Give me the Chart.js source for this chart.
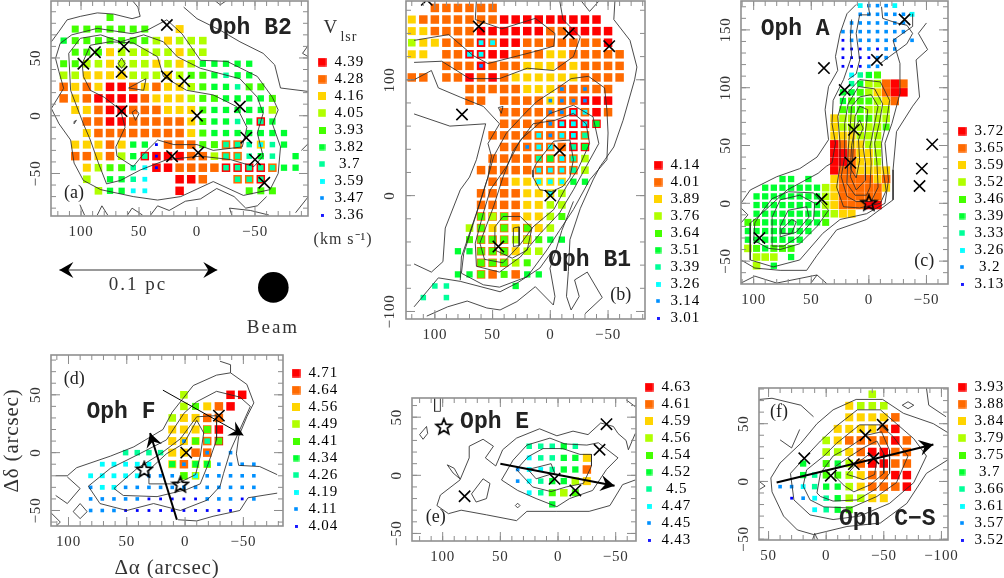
<!DOCTYPE html>
<html>
<head>
<meta charset="utf-8">
<style>
html,body{margin:0;padding:0;background:#fff;overflow:hidden}
canvas{position:absolute}
</style>
<script src="https://cdn.jsdelivr.net/npm/chart.js@4/dist/chart.umd.min.js"></script>
</head>
<body>
<script>
// velocity bins, strongest first: same colour ramp in every panel
const levelColors = ['#ff0000','#ff6a00','#ffd400','#b0ff00','#44ff00','#00ff30','#00ff99','#00ffff','#0090ff','#0000ff'];
const levelSides = [8.5,8.5,8,7.6,7,6.3,5.5,4.8,3.6,2.8];

const ticks100 = [100,50,0,-50];
const ticksF = [50,0,-50,-100];
const ticks50 = [50,0,-50];
const ticksB = [100,0,-100];
const ticksC = [150,100,50,0,-50];
const minor10 = [170,160,150,140,130,120,110,100,90,80,70,60,50,40,30,20,10,0,-10,-20,-30,-40,-50,-60,-70,-80,-90,-100,-110];
const minor20 = [160,140,120,100,80,60,40,20,0,-20,-40,-60,-80,-100];

// ---- Oph B2
const aVels = ['4.39','4.28','4.16','4.05','3.93','3.82','\u00a03.7','3.59','3.47','3.36'];
const aColsX = [115,105,95,85,75,65,55,45,35,25,15,5,-5,-15,-25,-35,-45,-55,-65,-75,-85];
const aRowsY = [85,75,65,55,45,35,25,15,5,-5,-15,-25,-35,-45,-55,-65];
const aRows = [
'....4................',
'.4444444..2..........',
'5444444432333........',
'.444233333233........',
'44332333232355555....',
'33222233323445655....',
'121200121223455644...',
'1210000122234455554..',
'.221001112224555553..',
'..11001111124556505..',
'..211111111245555555.',
'.2221255911144116265.',
'.112135000011311656.5',
'..2344670011110000155',
'..3.5567..001..110...',
'...35577..0.....444..'];
const aOver = [[-55,-5,6],[-25,-25,6],[-35,-25,6],[-55,-25,7],[45,-35,6],[35,-35,9],[-25,-35,6],[-35,-35,6],[35,-45,9],[-25,-45,6],[-35,-45,6],[-45,-45,6],[-55,-45,6],[-65,-45,6],[-35,-55,6],[-45,-55,6],[-55,-55,6]];
const aCrosses = [[26,78.5],[63,60],[88,55],[98,45],[65,38],[26,34],[11,30],[-37,8],[0,0],[65,4],[-42.5,-19],[-1,-32],[21.5,-35],[-50,-38],[-58,-58]];
const aContours = [
[125.6,64,119,73,112,83,100.6,86,86,89,72,88,56,84,49,86,51,94,56,100],
[11.5,94,0,84,-20,74,-37,64,-57,54,-67,44,-72,24,-96,21],
[125.6,6.3,115,23.7,119,38,122,49.6,118,62.6,108,70,86,75.6,56,71,43,74,26,83,13,71,-3,48,-26,47,-52,34,-65,16,-70,5,-65,-7,-72,-27,-70,-50,-63,-64,-40,-69,-14,-57,14,-70,34,-73,55,-70,83,-64,98,-56,106,-41,109,-21,119,-7,125.6,6.3],
[110.6,54,100.6,67,83,70,66,64,46,70,29,64,17,51,-3,41,-37,32,-52,16,-57,2,-52,-15,-57,-35,-49,-44,-29,-38,-3,-35,26,-38,49,-47,66,-56,78,-59,85,-41,92,-21,98,-7,109,22,110.6,54],
[98,34,99,45,92,61,75,64,55,63,34,51,29,34,9,22,-14,18,-34,8,-43,-10,-39,-27,-14,-30,0,-25,20,-25,34,-21,46,-33,55,-44,69,-35,70,-27,62,-10,66,5,80,16,92,22,98,34],
[68,45,65,50,62,45,65,41,68,45],
[59,24,44,32,46,22,59,24],
[56,3,53,5,50,2,53,-4,56,3],
[106,-5,104,-4,106,-7,106,-5],
[40,-86,34,-78,24,-82,10,-74,-3,-72,-17,-63,-32,-70,-42,-80,-52,-78,-60,-70],
[-96,61,-91,54,-96,51],
[97,-86,101,-77],
[-30,-86,-28,-80,-46,-82,-62,-86],
[47,-86,56,-80,60,-86],
[77,-86,82,-78,86,-86],
[-85,-84,-96,-70],
[-90,-30,-96,-24],
[-15,100,-20,96,-26,100]];

// ---- Oph B1
const bVels = ['4.14','4.01','3.89','3.76','3.64','3.51','3.39','3.26','3.14','3.01'];
const bColsX = [120,110,100,90,80,70,60,50,40,30,20,10,0,-10,-20,-30,-40,-50,-60];
const bRowsY = [162,152,142,132,122,112,102,92,82,72,62,52,42,32,22,12,2,-8,-18,-28,-38,-48,-58,-68,-78,-88];
const bRows = [
'..111111...........',
'21111111000000000..',
'221111000000110000.',
'322111010011111110.',
'22.1100001112211111',
'...1110111222121111',
'11.1101012222221111',
'.....1111122211111.',
'.....11.1111211000.',
'........1111110101.',
'........111110000..',
'.......111111101...',
'........11111100...',
'.......111111113...',
'......1111111113...',
'.......112222255...',
'......11112223.....',
'......11112233.....',
'......11112234.....',
'.....31212123......',
'.....411131455.....',
'....55111233.......',
'......11134........',
'....5511.155........',
'..66.....5.........',
'.6.6...............'];
const bOver = [[60,132,7],[50,132,7],[70,122,7],[60,122,7],[60,112,8],[-10,92,8],[-30,92,8],[0,82,8],[-10,82,8],[-20,82,8],[-30,82,8],[0,72,8],[-10,72,8],[-20,72,7],[-30,72,7],[0,62,8],[-10,62,7],[-20,62,7],[-30,62,7],[-40,62,5],[10,52,7],[0,52,8],[-10,52,7],[-20,52,7],[-30,52,6],[20,42,8],[10,42,7],[0,42,7],[-20,42,6],[-30,42,5],[10,32,6],[0,32,5],[-10,32,7],[-20,32,6],[10,22,7],[0,22,7],[-10,22,7],[-20,22,6],[10,12,7],[0,12,7],[-10,12,7],[0,2,7],[60,-18,4],[50,-18,3],[40,-18,4],[60,-28,4],[40,-28,4],[20,-28,4],[60,-38,4],[50,-38,4],[40,-38,4],[20,-38,3],[60,-48,4],[50,-48,4],[40,-48,4],[60,-58,4],[50,-58,4],[40,-58,4],[60,-68,4],[40,-68,4]];
const bCrosses = [[107,169],[62,146],[-16,140],[-51,129],[76.5,70],[-8,39],[0,0],[45,-44]];
const bContours = [
[118,134,88,139,67,121,54,114,15,124,-3,129,-4,140,13,153,42,144,65,152,64,169],
[118,115,94,116,70,101,44,101,20,110,-3,108,-20,120,-26,137,-11,152,-8,169],
[126,100,118,100,103,108,97,93,78,85,58,77,44,62,54,45,51,34,54,16,64,-15,77,-53,78,-73],
[118,70.5,87,60,56,62,64,31,70,16,78,5,91,-28,93,-57,103,-66,118,-59],
[45,76,41,77,42.5,71,45,76],
[-26,169,-34,159,-43,169],
[-56,169,-55,152,-69,134,-75,111,-73,100,-63,65,-55,42,-43,25,-37,13.5,-26,-11,-17,-38,-15.6,-65.6,-14,-87,-18,-98.7,-25,-87,-21,-72.8,-32,-66,-45,-88,-30,-102],
[-20,-5,-10,-30,-4,-50,0.3,-62.7,-4,-87,-2.6,-94.4,13,-78.6,29,-91.5,43.5,-98.7,55,-97,72,-91,89,-96,107,-104],
[118,-96,97,-71,78,-74,43.5,-83,28,-75,9,-62.5,0,-50],
[-47,93,-33,103,-18,101,-8,94,12,81,23,70,38,54,49,34,54,16,62,-9.5,75,-50,77,-67,58,-77,44,-79,20,-70,3,-47,-8,-30,-20,-12,-34,13.5,-49,31,-50,54,-49,74,-47,93],
[0,71,-20,78,-37,68,-42,45,-31,25,-20,5,-8,-15,9,-33,26,-53,44,-66,64,-61,65,-41,58,-15,52,5,38,25,26,48,0,71],
[-4,65,-20,71,-31,62,-34,45,-24,23,-14,8,-3,-12,15,-27,26,-42,41,-58,57,-55,61,-41,49,-9,41,16,32,39,15,62,-4,65],
[48,-27,41,-18,26,-18,16,-28,20,-47,33,-54,48,-47,48,-27],
[32,-28,27,-27,27,-43,32,-44,32,-28],
[15,22,15,16,9,5,-1,3.5,-11,8,-17,16,-20,31,-17,48,-3,47,12,28,15,22]];

// ---- Oph A
const cVels = ['3.72','3.65','3.59','3.52','3.46','3.39','3.33','3.26','\u00a03.2','3.13'];
const cColsX = [105,97.5,90,82.5,75,67.5,60,52.5,45,37.5,30,22.5,15,7.5,0,-7.5,-15,-22.5,-30,-37.5];
const cRowsY = [171,163.5,156,148.5,141,133.5,126,118.5,111,103.5,96,88.5,81,73.5,66,58.5,51,43.5,36,28.5,21,13.5,6,-1.5,-9,-16.5,-24,-31.5,-39,-46.5,-54];
const cRows = [
'.............78887..',
'.............8888887',
'............8888888.',
'...........88888888.',
'...........9888888.8',
'...........9998988..',
'...........999988...',
'...........99988....',
'............7654....',
'............6533101.',
'...........55432100.',
'...........5444321..',
'...........444333...',
'..........2334433...',
'..........2333334...',
'..........222333....',
'..........012233....',
'..........001223....',
'..........001223....',
'..........0112222...',
'....55.5..2111121...',
'..555555532111112...',
'.555555553211111....',
'.555555553211100....',
'.555555554322.......',
'4455555554..........',
'55555555............',
'5555555.............',
'345444..............',
'.333.5..............',
'.3.5................'];
const cCrosses = [[-31,159],[-7,124],[39,117],[21,98],[13,63.5],[16,35],[-55,51],[-46,30],[-44,15],[41,3.5],[95,-30]];
const cStars = [[0,0]];
const cContours = [
[11,172,19,164,25,147,29,127,27,115,35,101,38,81,35,55,45,40,60,30,80,23,103,11.5,111,0],
[-50,156,-43,147,-51,133,-41,124,-44,92,-38,84,-24,62,-21,29,-21,3,2,-14,28,-23,45,-45,54,-58,77,-58,99,-56,111,-49],
[15,159,16,144,15,127,22,107,31,89,32,69,29,52,32,35,37,32,44,26,71,11.5,96,-11.5,103,-17,103,-49,83,-55,60,-49,40,-26,25,-14,2,-9,-14,0,-17,20,-14,52,-20,69,-27,95,-27,121,-21,141,-38,153,-38,164],
[8,107,-10,105,-18,89,-15,69,-11,52,-12,32,-15,11,-10,0,8,-4,22,-3,28,14,25,32,25,52,27,75,22,92,8,107],
[9,101,-5,99,-12,86,-9,69,-5,52,-7,35,-8,14,-2,1.5,11,1.5,19,6,24,23,21,40,21,69,18,86,9,101],
[8,92,-2,94,-8,84,-5,69,-1,49,-2,35,-1,14,2,7,12,7,19,17,18,46,16,69,15,84,8,92],
[8,84,1,81,2,69,5,49,3,35,3,20,11,11.5,16,23,14,40,13,60,12,75,8,84],
[8,72,5,65,9,55,8,37,11,22,16,30,15,50,12,65,8,72],
[94,-9,84,4,70,10,48,9,35,-6,45,-20,60,-35,77,-40,87,-39,100,-32,99,-17,94,-9],
[84,-12,77,3,60,7,47,0,48,-14,61,-29,74,-37,84,-37,84,-12],
[77,-20,70,-6,54,-3,52,-12,63,-25,77,-29,77,-20],
[76,-23,67,-14,63,-16,67,-26,76,-26,76,-23],
[111,-69,99,-63,80,-69,45,-62,36,-70],
[45,-62,51,-70],
[111,-4,105,-10,111,-17],
[-11,170,-12,160,-24,156,-33,154,-38,147,-33,138,-18,127,-10,121],
[1,172,-1,163,8,163,11,147,8,124,11,112,18,107]];

// ---- Oph F
const dVels = ['4.71','4.64','4.56','4.49','4.41','4.34','4.26','4.19','4.11','4.04'];
const dColsX = [81,71,61,51,41,31,21,11,1,-9,-19,-29,-39,-49,-59];
const dRowsY = [50,40,30,20,10,0,-10,-20,-30,-40,-50];
const dRows = [
'........3...00.',
'........34210..',
'.......32211...',
'.......22210...',
'.......22210...',
'...66662211.8..',
'.77777.21338888',
'777778883388888',
'877888888888888',
'888889999988898',
'8889999999999..'];
const dOver = [[-19,20,4],[1,10,8],[-9,10,4],[-19,10,6],[-29,10,4],[-19,0,8],[11,-10,5],[1,-10,8],[-9,-10,5],[-19,-10,5],[-9,-20,7],[1,-20,4]];
const dCrosses = [[-29,32],[-1,0]];
const dStars = [[35,-15],[4,-28]];
const dContours = [
[111,-20,101,-20,93,-13,64,-3,44,5,19,20,11,35,-7,58,-27,67,-39,69,-39,76,-30,79],
[-39,69,-53,59,-59,43,-53,31,-46,14,-44,-1,-46,-11,-64,-12,-79,-19],
[101,-21,90,-31,101,-44,111,-37],
[83,-29,64,-13.5,41,-2,16,11,1,34,-10,44,-27,53,-47,48,-56,40,-47,20,-39,2,-33,-18,-30,-29,-19,-41,4,-50,27,-44,50,-50,73,-44,83,-29],
[-79,-35,-54,-39,-47,-50,-24,-55,-10,-59,6,-58],
[61,-31,41,-13.5,21,-1,4,12,-10,31,-27,32,-27,11,-19,-12,-13,-27,-1,-32,24,-38,53,-37,61,-31],
[31,-27,31,-15,16,-1,1,8,-10,28,-16,17,-13,-3,-9,-19,7,-27,31,-27],
[96,-51,90,-44,84,-51,90,-57,96,-51],
[115,-52,107,-60,110,-63]];

// ---- Oph E
const eVels = ['4.63','4.61','4.59','4.56','4.54','4.52','\u00a04.5','4.47','4.45','4.43'];
const eColsX = [35,25,15,5,-5,-15,-25];
const eRowsY = [25,15,5,-5,-15,-25];
const eRows = ['.66656.','.766552','8776551','8765532','.76434.','...5...'];
const eCrosses = [[81,-18],[3,-3],[-15,-13],[-36,22],[-42,44]];
const eStars = [[99,41.5]];
const eContours = [
[105,-26,102,-17,85,-4,77,15,77,25,65,31,56,25,63,15,54,8,48,22,36,32,16,40,1,34,-13,38,-26,35,-37,45,-48,42,-52,36,-59,30,-61,22,-67,36],
[105,-26,95,-33,84,-30,62,-34,36,-39,27,-31,1,-31,-27,-31,-45,-26,-56,-8,-67,-4],
[49,-4,39,13,27,26,7,32,-6,27,-25,26,-35,28,-52,15,-42,5,-30,-13,-10,-20,1,-27,19,-20,35,-13,49,-4],
[36,5,26,16,13,23,-4,23,-19,18,-29,18,-29,8,-22,-7,-7,-10,6,-14,22,-10,36,5],
[26,5,6,10,3,2,19,-3,26,5],
[75,-16,65,-3,59,-7,62,-20,71,-23,75,-16],
[96,9,90,6,85,-3,91,2,96,9],
[120,35,114,42,113,36,117,31,120,35],
[107,67,107,55,102,55,102,67],
[-59,65,-67,59],
[37,-26,35,-24,33,-26,35,-28,37,-26]];

// ---- Oph C-S
const fVels = ['3.93','3.88','3.84','3.79','3.75','\u00a03.7','3.66','3.61','3.57','3.52'];
const fColsX = [40,30,20,10,0,-10,-20,-30,-40,-50,-60,-70];
const fRowsY = [75.5,65.5,55.5,45.5,35.5,25.5,15.5,5.5,-4.5,-14.5,-24.5];
const fRows = [
'........3...',
'......2333..',
'......22221.',
'.....222210.',
'....32111101',
'....33210011',
'..5.45310011',
'..5644321100',
'887655321110',
'.987653322..',
'...7654.....'];
const fCrosses = [[19,20],[-4,5],[-24,15],[-34,40],[-41,20],[-49,49]];
const fContours = [
[48,3,40,16,22,33,8,50,-6,62,-26,71,-49,71,-67,59,-93,50,-106,42],
[48,3,47,-9,37,-30,25,-42,11,-46,-18,-39,-47,-36,-70,-19,-87,7,-106,19],
[31,7,20,19,5,35,-9,48,-27,62,-47,62,-61,50,-76,37,-87,22,-76,-1,-55,-19,-29,-30,-6,-33,14,-29,28,-16,31,7],
[20,-4,17,10,2,22,-9,33,-29,49,-47,49,-58,39,-71,22,-61,-1,-44,-13,-21,-23,2,-22,14,-16,20,-4],
[8,-10,5,7,-6,22,-19,29,-35,40,-48,43,-55,27,-55,7,-44,-6,-27,-16,-6,-17,5,-13,8,-10],
[-8,13,-18,20,-32,29,-44,35,-50,24,-50,7,-38,-3,-24,-9,-16,-4,-8,4,-8,13],
[-18,6,-27,16,-38,24,-44,19,-42,6,-32,1.5,-25,4,-18,6],
[23,45,30,29,40,36],
[-87,81,-89,66,-104,56],
[-66,66,-71,69,-76,66,-71,63,-66,66],
[58,71,47,72,22,66,11,56],
[12,-51,10,-45,7,-51],
[58,0,53,-4,58,-7]];

const SERIF = '"Liberation Serif"';
const labelFont = {family:'Liberation Serif', size:15};
const monoBold = 'bold 23px "Liberation Mono"';
const roman = '18px ' + SERIF;
const titleFont = {family:'Liberation Serif', size:21};

function pairs(flat) {
  const out = [];
  for (let i = 0; i < flat.length; i += 2) out.push({x: flat[i], y: flat[i + 1]});
  return out;
}

function swatch(level) {
  const s = Math.ceil(levelSides[level]);
  const c = document.createElement('canvas');
  c.width = c.height = s;
  const g = c.getContext('2d');
  g.fillStyle = levelColors[level];
  g.fillRect((s - levelSides[level]) / 2, (s - levelSides[level]) / 2, levelSides[level], levelSides[level]);
  return c;
}

function starImage() {
  const c = document.createElement('canvas');
  c.width = c.height = 20;
  const g = c.getContext('2d');
  g.beginPath();
  for (let i = 0; i < 10; i++) {
    const r = i % 2 ? 3.6 : 8.2;
    const a = -Math.PI / 2 + i * Math.PI / 5;
    g[i ? 'lineTo' : 'moveTo'](10 + r * Math.cos(a), 10 + r * Math.sin(a));
  }
  g.closePath();
  g.lineWidth = 1.7;
  g.strokeStyle = '#000';
  g.stroke();
  return c;
}

function drawArrow(ctx, x0, y0, x1, y1, width, both, color) {
  ctx.strokeStyle = color || '#000';
  ctx.lineWidth = width;
  ctx.beginPath(); ctx.moveTo(x0, y0); ctx.lineTo(x1, y1); ctx.stroke();
  const head = (x, y, a) => {
    ctx.save();
    ctx.translate(x, y); ctx.rotate(a);
    ctx.fillStyle = '#000';
    ctx.beginPath();
    ctx.moveTo(0, 0); ctx.lineTo(-14, -8); ctx.lineTo(-9, 0); ctx.lineTo(-14, 8);
    ctx.closePath(); ctx.fill();
    ctx.restore();
  };
  const a = Math.atan2(y1 - y0, x1 - x0);
  head(x1, y1, a);
  if (both) head(x0, y0, a + Math.PI);
}

// frame, inward ticks, arrows and text labels, all placed through the chart scales
const panelMarks = {
  id: 'panelMarks',
  beforeLayout(chart, args, o) {
    const leg = chart.legend;
    if (!leg._fixedFit) {
      const fit = leg.fit;
      leg.fit = function () { fit.call(this); this.width = o.legendWidth; };
      leg._fixedFit = true;
    }
  },
  beforeDraw(chart, args, o) {
    chart.legend.left = o.legendAt[0] - 7;
    chart.legend.top = o.legendAt[1] - 9.5;
    chart.ctx.letterSpacing = '0.8px';
  },
  afterDatasetsDraw(chart, args, o) {
    const {ctx, chartArea: a, scales: {x, y}} = chart;
    ctx.save();
    ctx.strokeStyle = '#8c8c8c';
    ctx.lineWidth = 1;
    const tick = (val, len, axis) => {
      ctx.beginPath();
      if (axis === 'x') {
        const p = x.getPixelForValue(val);
        if (p < a.left || p > a.right) return;
        ctx.moveTo(p, a.bottom); ctx.lineTo(p, a.bottom - len);
        ctx.moveTo(p, a.top); ctx.lineTo(p, a.top + len);
      } else {
        const p = y.getPixelForValue(val);
        if (p < a.top || p > a.bottom) return;
        ctx.moveTo(a.left, p); ctx.lineTo(a.left + len, p);
        ctx.moveTo(a.right, p); ctx.lineTo(a.right - len, p);
      }
      ctx.stroke();
    };
    o.minorX.forEach(v => tick(v, 5, 'x'));
    o.minorY.forEach(v => tick(v, 5, 'y'));
    o.ticksX.forEach(v => tick(v, 9, 'x'));
    o.ticksY.forEach(v => tick(v, 9, 'y'));
    ctx.lineWidth = 1.6;
    ctx.strokeStyle = '#909090';
    ctx.strokeRect(a.left, a.top, a.right - a.left, a.bottom - a.top);
    (o.arrows || []).forEach(r => drawArrow(ctx, x.getPixelForValue(r.from[0]), y.getPixelForValue(r.from[1]),
      x.getPixelForValue(r.to[0]), y.getPixelForValue(r.to[1]), r.width, r.both, r.color));
    (o.circles || []).forEach(c => {
      ctx.fillStyle = '#000';
      ctx.beginPath();
      ctx.arc(x.getPixelForValue(c.x), y.getPixelForValue(c.y), Math.abs(x.getPixelForValue(c.x + c.r) - x.getPixelForValue(c.x)), 0, 2 * Math.PI);
      ctx.fill();
    });
    ctx.textAlign = 'center';
    ctx.textBaseline = 'middle';
    (o.texts || []).forEach(t => {
      ctx.font = t.font;
      ctx.fillStyle = t.color || '#222';
      ctx.letterSpacing = t.spacing || '0px';
      ctx.fillText(t.text, x.getPixelForValue(t.x), y.getPixelForValue(t.y));
    });
    ctx.restore();
  }
};

function panel(p) {
  const [cl, ct, cr, cb] = p.canvas;
  const [l, t, r, b] = p.frame;
  const cv = document.createElement('canvas');
  cv.width = cr - cl; cv.height = cb - ct;
  cv.style.left = cl + 'px'; cv.style.top = ct + 'px';
  document.body.appendChild(cv);

  const byLevel = levelColors.map(() => []);
  p.rows.forEach((row, j) => {
    [...row].forEach((ch, i) => {
      if (ch !== '.') byLevel[+ch].push({x: p.colsX[i], y: p.rowsY[j]});
    });
  });
  (p.over || []).forEach(o => byLevel[o[2]].push({x: o[0], y: o[1]}));

  const datasets = byLevel.map((pts, i) => ({
    label: p.vels[i], data: pts, order: 100 - i, showLine: false,
    pointStyle: 'rect', pointRadius: levelSides[i] / Math.SQRT2, pointBorderWidth: 0,
    pointBackgroundColor: levelColors[i]
  }));
  p.contours.forEach(c => datasets.push({
    data: pairs(c), order: 20, showLine: true, tension: 0, pointRadius: 0,
    borderColor: '#2a2a2a', borderWidth: 0.85
  }));
  datasets.push({
    data: p.crosses.map(q => ({x: q[0], y: q[1]})), order: 5, showLine: false,
    pointStyle: 'crossRot', pointRadius: 8, pointBorderColor: '#000', pointBorderWidth: 1.6
  });
  if (p.stars) datasets.push({
    data: p.stars.map(q => ({x: q[0], y: q[1]})), order: 1, showLine: false,
    pointStyle: starImage(), pointRadius: 9
  });

  const minus = v => String(v).replace('-', '\u2212');
  new Chart(cv, {
    type: 'scatter',
    data: {datasets},
    plugins: [panelMarks],
    options: {
      responsive: false, animation: false, events: [],
      layout: {autoPadding: false, padding: {top: t - ct, left: 0, right: 0, bottom: 0}},
      scales: {
        x: {
          type: 'linear', reverse: true, min: p.xRange[1], max: p.xRange[0],
          afterBuildTicks: s => { s.ticks = p.ticksX.map(v => ({value: v})); },
          afterFit: s => { s.height = cb - b; s.paddingLeft = s.paddingRight = 0; },
          grid: {display: false, drawTicks: false}, border: {display: false},
          ticks: {autoSkip: false, maxRotation: 0, padding: 7, font: labelFont, color: '#333', callback: minus},
          title: p.titleX ? {display: true, text: p.titleX, font: titleFont, color: '#333', padding: {top: 0, bottom: -3}} : {display: false}
        },
        y: {
          type: 'linear', min: p.yRange[0], max: p.yRange[1],
          afterBuildTicks: s => { s.ticks = p.ticksY.map(v => ({value: v})); },
          afterFit: s => { s.width = l - cl; s.paddingTop = s.paddingBottom = 0; },
          grid: {display: false, drawTicks: false}, border: {display: false},
          ticks: {autoSkip: false, minRotation: 90, maxRotation: 90, crossAlign: 'center', padding: p.yPad, font: labelFont, color: '#333', callback: minus},
          title: p.titleY ? {display: true, text: p.titleY, font: titleFont, color: '#333', padding: {top: 0, bottom: 0}} : {display: false}
        }
      },
      plugins: {
        tooltip: {enabled: false},
        legend: {
          display: true, position: 'right', align: 'start',
          labels: {
            usePointStyle: true, boxWidth: 10, boxHeight: 10, padding: 2, font: labelFont, color: '#333',
            generateLabels: () => p.vels.map((v, i) => ({
              text: v, pointStyle: swatch(i), fillStyle: levelColors[i], strokeStyle: levelColors[i],
              lineWidth: 0, hidden: false, datasetIndex: i
            }))
          }
        },
        panelMarks: {
          legendWidth: cr - r, legendAt: [p.legendAt[0] - cl, p.legendAt[1] - ct],
          ticksX: p.ticksX, ticksY: p.ticksY, minorX: minor10, minorY: p.minorY || minor10,
          texts: p.texts, arrows: p.arrows, circles: p.circles
        }
      }
    }
  });
}

panel({
  canvas: [0,0,385,345], frame: [51,1,308,216], xRange: [125.9,-95.7], yRange: [-86.8,99.3], yPad: 3,
  vels: aVels, colsX: aColsX, rowsY: aRowsY, rows: aRows, over: aOver, crosses: aCrosses, contours: aContours,
  ticksX: ticks100, ticksY: ticks50, legendAt: [322,62],
  texts: [
    {text:'Oph B2', x:-46, y:75.6, font:monoBold},
    {text:'(a)', x:106, y:-67, font:roman},
    {text:'V', x:-115, y:76, font:'19px '+SERIF, color:'#333'},
    {text:'lsr', x:-131, y:68, font:'14px '+SERIF, color:'#333', spacing:'1px'},
    {text:'(km s\u207b\u00b9)', x:-126, y:-107.6, font:'16px '+SERIF, color:'#333', spacing:'1px'},
    {text:'0.1 pc', x:51, y:-146.6, font:'19px '+SERIF, color:'#333', spacing:'2px'},
    {text:'Beam', x:-65.5, y:-183.8, font:'19px '+SERIF, color:'#333', spacing:'2px'}
  ],
  arrows: [{from:[118.7,-133.6], to:[-17.5,-133.6], width:1.5, both:true, color:'#777'}],
  circles: [{x:-65.8, y:-148.6, r:13.2}]
});
panel({
  canvas: [375,0,700,345], frame: [406,1,645,319], xRange: [125,-82], yRange: [-106.5,168], yPad: 0, minorY: minor20,
  vels: bVels, colsX: bColsX, rowsY: bRowsY, rows: bRows, over: bOver, crosses: bCrosses, contours: bContours,
  ticksX: ticks100, ticksY: ticksB, legendAt: [658,165],
  texts: [{text:'Oph B1', x:-34, y:-55.5, font:monoBold}, {text:'(b)', x:-61, y:-86, font:roman}]
});
panel({
  canvas: [705,0,1004,345], frame: [741,1,948,284], xRange: [111,-68.7], yRange: [-69.8,175], yPad: 3,
  vels: cVels, colsX: cColsX, rowsY: cRowsY, rows: cRows, crosses: cCrosses, stars: cStars, contours: cContours,
  ticksX: ticks100, ticksY: ticksC, legendAt: [962,131],
  texts: [{text:'Oph A', x:64, y:151, font:monoBold}, {text:'(c)', x:-48, y:-50, font:roman}]
});
panel({
  canvas: [0,345,385,578], frame: [51,355,283,526], xRange: [115,-84], yRange: [-63.4,84.4], yPad: 3,
  vels: dVels, colsX: dColsX, rowsY: dRowsY, rows: dRows, over: dOver, crosses: dCrosses, stars: dStars, contours: dContours,
  ticksX: ticks100, ticksY: ticks50, legendAt: [296,373], titleX: '\u0394\u03b1 (arcsec)', titleY: '\u0394\u03b4 (arcsec)',
  arrows: [{from:[7,-58], to:[30,17], width:2}, {from:[19,54], to:[-50,15], width:1}],
  texts: [{text:'Oph F', x:55, y:35, font:monoBold}, {text:'(d)', x:95, y:63, font:roman}]
});
panel({
  canvas: [375,370,700,578], frame: [412,398,636,541], xRange: [126.6,-67.6], yRange: [-56.5,66.5], yPad: 3,
  vels: eVels, colsX: eColsX, rowsY: eRowsY, rows: eRows, crosses: eCrosses, stars: eStars, contours: eContours,
  ticksX: ticks100, ticksY: ticks50, legendAt: [649,387],
  arrows: [{from:[50,10], to:[-49,-9], width:2}],
  texts: [{text:'Oph E', x:55, y:46, font:monoBold}, {text:'(e)', x:106, y:-36, font:roman}]
});
panel({
  canvas: [705,360,1004,578], frame: [759,388,948,540], xRange: [58.3,-105.7], yRange: [-50.7,80.9], yPad: 3,
  vels: fVels, colsX: fColsX, rowsY: fRowsY, rows: fRows, crosses: fCrosses, contours: fContours,
  ticksX: ticksF, ticksY: ticks50, legendAt: [962,387],
  arrows: [{from:[43,-1], to:[-93,32], width:2}],
  texts: [{text:'Oph C\u2212S', x:-53, y:-33, font:monoBold}, {text:'(f)', x:41, y:60, font:roman}]
});
</script>
</body>
</html>
